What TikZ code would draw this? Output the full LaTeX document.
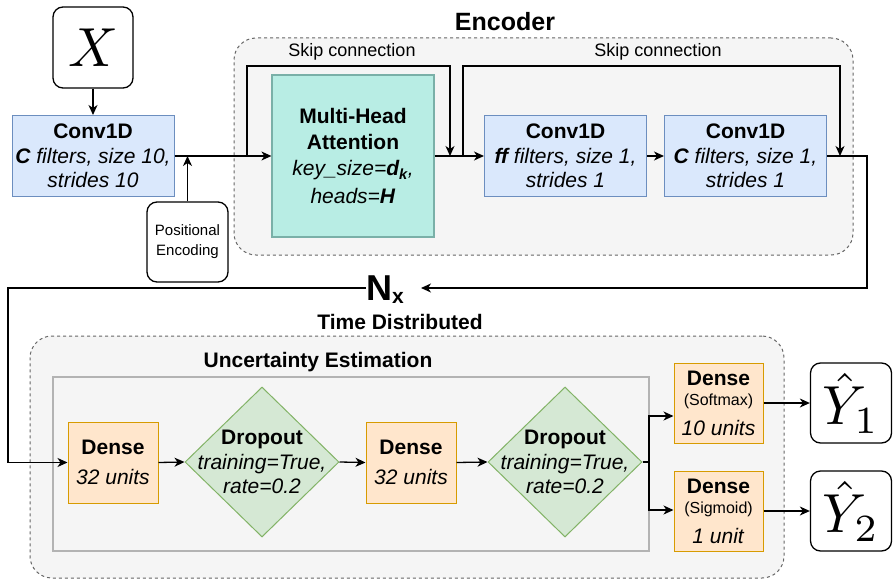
\documentclass[tikz,border=0pt]{standalone}
\usepackage{graphicx}
\usepackage[no-math]{fontspec}
\setmainfont{Liberation Sans}
\usetikzlibrary{shapes.geometric,arrows.meta}
\definecolor{bluefill}{HTML}{DAE8FC}
\definecolor{blueline}{HTML}{6C8EBF}
\definecolor{tealfill}{RGB}{184,237,228}
\definecolor{tealline}{RGB}{122,176,168}
\definecolor{orfill}{HTML}{FFE6CC}
\definecolor{orline}{HTML}{D79B00}
\definecolor{grfill}{HTML}{D5E8D4}
\definecolor{grline}{HTML}{82B366}
\definecolor{contfill}{HTML}{F5F5F5}
\definecolor{contline}{HTML}{666666}
\definecolor{innerline}{HTML}{B3B3B3}
\newcommand{\hugemath}[1]{\scalebox{5.5}{\normalsize$#1$}}
\begin{document}
\begin{tikzpicture}[x=1pt,y=-1pt,
  base/.style={font=\fontsize{21}{24.5}\selectfont, align=center, inner sep=0pt},
  conv/.style={base, rectangle, draw=blueline, fill=bluefill, line width=1pt, minimum width=162pt, minimum height=81pt},
  mhabox/.style={base, rectangle, draw=tealline, fill=tealfill, line width=1.2pt, minimum width=162pt, minimum height=162pt},
  densebox/.style={base, rectangle, draw=orline, fill=orfill, line width=1pt, minimum width=90pt, minimum height=81pt},
  dropbox/.style={diamond, draw=grline, fill=grfill, line width=1pt, minimum width=154pt, minimum height=150pt, inner sep=0pt},
  iobox/.style={rectangle, rounded corners=10pt, draw=black, fill=white, line width=1.3pt, minimum width=80pt, minimum height=81pt, inner sep=0pt},
  container/.style={rectangle, rounded corners=22pt, draw=contline, fill=contfill, dashed, dash pattern=on 3pt off 3pt, line width=1pt, inner sep=0pt},
  innerbox/.style={rectangle, draw=innerline, fill=contfill, line width=1.3pt, inner sep=0pt},
  title/.style={font=\fontsize{21}{24}\selectfont\bfseries, inner sep=0pt},
  skiplabel/.style={font=\fontsize{18}{20}\selectfont, inner sep=0pt},
  ln/.style={line width=1.3pt},
  arr/.style={line width=1.3pt, -{Stealth[length=10pt,width=9pt,inset=3pt]}},
]
\useasboundingbox (0,0) rectangle (893,580);

% containers
\node (enc) [container, minimum width=619pt, minimum height=217pt] at (543.5,146.5) {};
\node (encT) [font=\fontsize{25}{28}\selectfont\bfseries, inner sep=0pt] at (505,22) {Encoder};
\node (td) [container, minimum width=754pt, minimum height=242pt] at (407,457) {};
\node (tdT) [title] at (400,322) {Time Distributed};
\node (ue) [innerbox, minimum width=596pt, minimum height=174pt] at (351,464) {};
\node (ueT) [title] at (318,362) {Uncertainty Estimation};

% encoder row
\node (X) [iobox] at (93,47.5) {\hugemath{X}};
\node (conv1) [conv] at (93,156) {\textbf{Conv1D}\\ \textit{\textbf{C} filters, size 10,}\\ \textit{strides 10}};
\node (pe) [iobox, minimum width=81pt, minimum height=80pt, font=\fontsize{15}{20}\selectfont, align=center] at (187.5,242) {Positional\\Encoding};
\node (mha) [mhabox] at (353,156) {\textbf{Multi-Head}\\[1pt] \textbf{Attention}\\[2pt] \textit{key\_size=\textbf{d\textsubscript{k}},}\\[3pt] \textit{heads=\textbf{H}}};
\node (conv2) [conv] at (565.5,156) {\textbf{Conv1D}\\ \textit{\textbf{ff} filters, size 1,}\\ \textit{strides 1}};
\node (conv3) [conv] at (745.5,156) {\textbf{Conv1D}\\ \textit{\textbf{C} filters, size 1,}\\ \textit{strides 1}};

\node (skipA) [skiplabel] at (352,52) {Skip connection};
\node (skipB) [skiplabel] at (658,52) {Skip connection};

\node (Nx) [inner sep=0pt] at (385,288) {\fontsize{36}{36}\selectfont\textbf{N}\smash{\raisebox{-3pt}{\fontsize{21}{21}\selectfont\textbf{x}}}};

% decoder row
\node (dense1) [densebox] at (113,462.5) {\textbf{Dense}\\[6pt] \textit{32 units}};
\node (d1) [dropbox] at (262,462) {};
\node (d1t) [base] at (262,462) {\textbf{Dropout}\\ \textit{training=True,}\\ \textit{rate=0.2}};
\node (dense2) [densebox] at (411,462.5) {\textbf{Dense}\\[6pt] \textit{32 units}};
\node (d2) [dropbox] at (565,462) {};
\node (d2t) [base] at (565,462) {\textbf{Dropout}\\ \textit{training=True,}\\ \textit{rate=0.2}};
\node (dense3) [densebox, minimum width=89pt, minimum height=80pt] at (718.5,403) {\textbf{Dense}\\[-4pt] {\fontsize{16}{19}\selectfont (Softmax)}\\[5pt] \textit{10 units}};
\node (dense4) [densebox, minimum width=89pt, minimum height=80pt] at (718.5,511) {\textbf{Dense}\\[-4pt] {\fontsize{16}{19}\selectfont (Sigmoid)}\\[5pt] \textit{1 unit}};
\node (Y1) [iobox, minimum width=81pt, minimum height=80pt] at (851,403) {\hugemath{\hat{Y}_1}};
\node (Y2) [iobox, minimum width=81pt, minimum height=80pt] at (851,511) {\hugemath{\hat{Y}_2}};

% coordinates
\coordinate (s1a) at (247,156);
\coordinate (s1b) at (450,66);
\coordinate (s1e) at (450,156);
\coordinate (s2a) at (463,156);
\coordinate (s2b) at (840,66);
\coordinate (s2e) at (840,156);
\coordinate (o1) at (867,156);
\coordinate (nxin) at (421,288);
\coordinate (l1) at (8,288);
\coordinate (br) at (649,462);
\coordinate (b3) at (649,416);
\coordinate (b4) at (649,510);

% connectors
\draw[arr] (X) -- (conv1);
\draw[arr] (conv1.east) -- (mha.west);
\draw[arr] (pe.north) -- (pe.north |- conv1.east);
\draw[arr] (s1a) |- (s1b) -- (s1e);
\draw[arr] (mha.east) -- (conv2.west);
\draw[arr] (s2a) |- (s2b) -- (s2e);
\draw[arr] (conv2.east) -- (conv3.west);
\draw[arr] (conv3.east) -- (o1) |- (nxin);
\draw[arr] (Nx.west) -- (l1) |- (dense1.west);
\draw[arr] (dense1.east) -- (d1.west);
\draw[arr] (d1.east) -- (dense2.west);
\draw[arr] (dense2.east) -- (d2.west);
\draw[ln] (d2.east) -- (br);
\draw[arr] (b3) |- (b4 -| dense4.west);
\draw[arr] (br) |- (b3 -| dense3.west);
\draw[arr] (dense3.east) -- (Y1.west);
\draw[arr] (dense4.east) -- (Y2.west);
\end{tikzpicture}
\end{document}
